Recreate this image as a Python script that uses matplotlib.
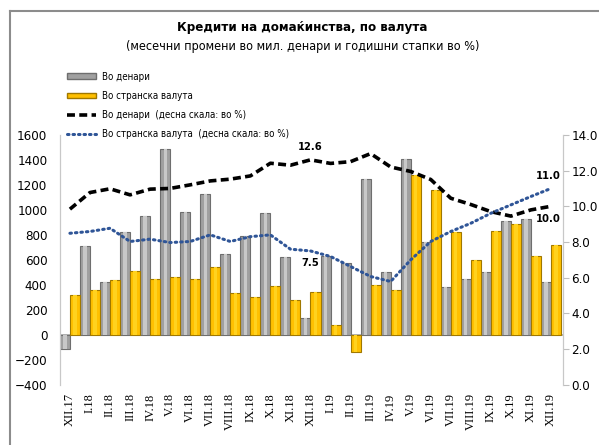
import numpy as np
import matplotlib
matplotlib.use("Agg")
import matplotlib.pyplot as plt
from matplotlib.lines import Line2D
from matplotlib.patches import Patch

plt.rcParams['font.family'] = ['DejaVu Sans']
plt.rcParams['font.stretch'] = 'condensed'

months = ['XII.17', 'I.18', 'II.18', 'III.18', 'IV.18', 'V.18', 'VI.18', 'VII.18',
          'VIII.18', 'IX.18', 'X.18', 'XI.18', 'XII.18', 'I.19', 'II.19', 'III.19',
          'IV.19', 'V.19', 'VI.19', 'VII.19', 'VIII.19', 'IX.19', 'X.19', 'XI.19', 'XII.19']

# monthly changes, mil. denars
denar_chg = [-110, 712, 424, 819, 952, 1488, 982, 1128, 645, 787, 975, 627, 139,
             632, 579, 1250, 501, 1410, 740, 387, 445, 501, 912, 925, 427]
fx_chg = [320, 360, 440, 509, 448, 464, 448, 547, 333, 307, 390, 280, 341,
          80, -133, 400, 360, 1275, 1155, 819, 600, 827, 890, 635, 715]

# annual growth rates, %
denar_rate = [9.84, 10.77, 10.98, 10.64, 10.96, 11.0, 11.2, 11.42, 11.52, 11.7, 12.41, 12.3, 12.6,
              12.4, 12.5, 12.95, 12.2, 11.95, 11.5, 10.45, 10.1, 9.7, 9.45, 9.8, 10.0]
fx_rate = [8.49, 8.59, 8.77, 8.03, 8.16, 7.97, 8.03, 8.4, 8.03, 8.3, 8.4, 7.6, 7.5,
           7.19, 6.63, 6.07, 5.79, 7.0, 8.03, 8.59, 9.05, 9.61, 10.08, 10.55, 11.0]

labels = ['Во денари', 'Во странска валута',
          'Во денари  (десна скала: во %)', 'Во странска валута  (десна скала: во %)']

x = np.arange(len(months))
w = 0.5

fig = plt.figure(figsize=(5.99, 4.45), dpi=100)
ax = fig.add_axes([0.100, 0.135, 0.840, 0.562])
ax2 = ax.twinx()

ax.axhline(0, color='#A6A6A6', lw=1.2, zorder=1)
ax.bar(x - 0.25, denar_chg, width=w, color='#A0A0A0', edgecolor='#6E6E6E', lw=0.8, zorder=2)
ax.bar(x - 0.25, denar_chg, width=0.16, color='#C8C8C8', lw=0, zorder=3)
ax.bar(x + 0.25, fx_chg, width=w, color='#FFC000', edgecolor='#A07800', lw=0.8, zorder=2)
ax.bar(x + 0.25, fx_chg, width=0.16, color='#FFD21F', lw=0, zorder=3)

ax2.plot(x, denar_rate, color='black', lw=2.6, ls=(0, (2.2, 1.2)), zorder=5)
ax2.plot(x, fx_rate, color='#2F5597', lw=2.2, ls=(0, (0.5, 1.3)),
         dash_capstyle='round', zorder=5)

ax.set_xlim(-0.5, 24.6)
ax.set_ylim(-400, 1600)
ax.set_yticks(np.arange(-400, 1601, 200))
ax2.set_ylim(0, 14)
ax2.set_yticks(np.arange(0, 14.1, 2))
ax2.set_yticklabels(['%.1f' % v for v in np.arange(0, 14.1, 2)])

ax.set_xticks(x)
ax.set_xticklabels(months, rotation=90, family='Liberation Serif', fontsize=9)
ax.tick_params(axis='x', length=0, pad=6)
ax.tick_params(axis='y', length=0, labelsize=9.5, pad=9)
ax2.tick_params(axis='y', length=4, color='#BFBFBF', labelsize=9.5, pad=2)

for a in (ax, ax2):
    a.spines['top'].set_visible(False)
    a.spines['bottom'].set_visible(False)
    a.spines['left'].set_color('#C8C8C8')
    a.spines['right'].set_color('#C8C8C8')
    a.patch.set_visible(False)

i = 12
ax2.annotate('%.1f' % denar_rate[i], (x[i], denar_rate[i]), xytext=(0, 9),
             textcoords='offset points', ha='center', va='center', fontsize=8, fontweight='bold')
ax2.annotate('%.1f' % fx_rate[i], (x[i], fx_rate[i]), xytext=(0, -9),
             textcoords='offset points', ha='center', va='center', fontsize=8, fontweight='bold')
ax2.annotate('%.1f' % fx_rate[-1], (x[-1], fx_rate[-1]), xytext=(-2, 9),
             textcoords='offset points', ha='center', va='center', fontsize=8, fontweight='bold')
ax2.annotate('%.1f' % denar_rate[-1], (x[-1], denar_rate[-1]), xytext=(-2, -9),
             textcoords='offset points', ha='center', va='center', fontsize=8, fontweight='bold')

fig.text(0.505, 0.939, 'Кредити на домаќинства, по валута', ha='center', va='center',
         fontsize=9.5, fontweight='bold')
fig.text(0.505, 0.895, '(месечни промени во мил. денари и годишни стапки во %)',
         ha='center', va='center', fontsize=9)

handles = [Patch(facecolor='#A0A0A0', edgecolor='#6E6E6E'),
           Patch(facecolor='#FFC000', edgecolor='#A07800'),
           Line2D([], [], color='black', lw=2.6, ls=(0, (2.2, 1.2))),
           Line2D([], [], color='#2F5597', lw=2.2, ls=(0, (0.5, 1.3)), dash_capstyle='round')]
fig.legend(handles, labels, loc='upper left', bbox_to_anchor=(0.105, 0.848),
           frameon=False, fontsize=7, handlelength=3.0, handleheight=0.5,
           labelspacing=0.95, handletextpad=0.6, borderaxespad=0)

# outer frame
fig.add_artist(Line2D([0.0167, 0.0167], [0.0, 0.975], color='#8C8C8C', lw=1.5))
fig.add_artist(Line2D([0.0167, 1.0], [0.975, 0.975], color='#8C8C8C', lw=1.5))

fig.savefig('out.png', dpi=100)
